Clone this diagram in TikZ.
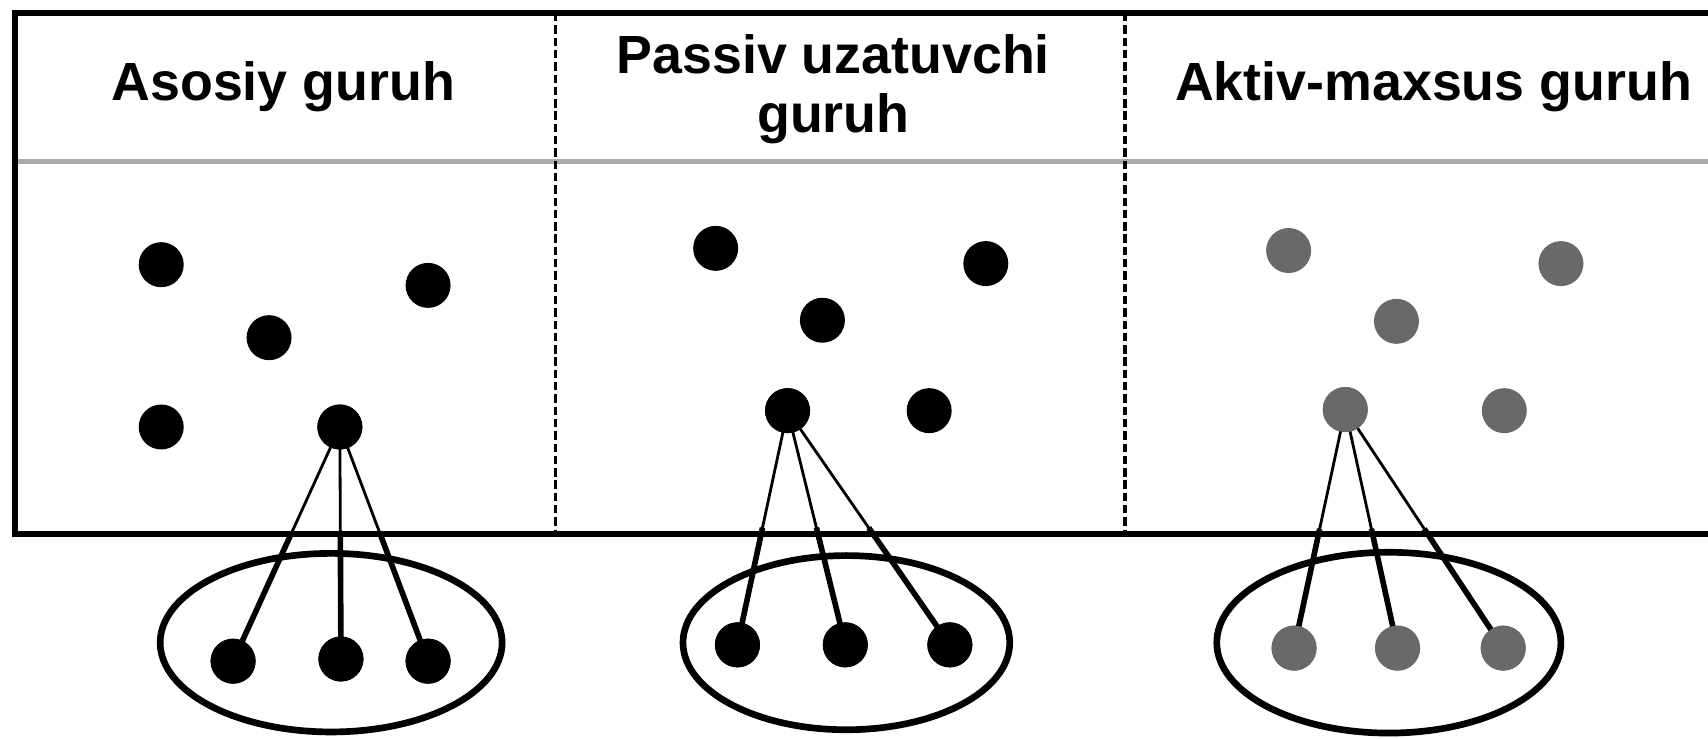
\documentclass[tikz,border=0pt]{standalone}
\usepackage{fontspec}
\setmainfont{Liberation Sans}
\usetikzlibrary{calc}
\definecolor{dotgray}{RGB}{105,105,105}
\definecolor{linegray}{RGB}{170,170,170}
\begin{document}
\begin{tikzpicture}[x=0.010893cm,y=-0.010893cm,
  dot/.style={circle,fill=black,inner sep=0pt,minimum size=0.45cm},
  gdot/.style={dot,fill=dotgray},
  title/.style={font=\bfseries\fontsize{15.3}{17}\selectfont,align=center,inner sep=0pt},
  frame/.style={line width=1.6pt},
  divider/.style={line width=1pt,dash pattern=on 2.4pt off 1.1pt},
  thinlink/.style={line width=0.8pt},
  thicklink/.style={line width=1.6pt},
  group/.style={line width=1.9pt}]
\useasboundingbox (0,0) rectangle (1568,678);

% frame
\draw[linegray,line width=1.4pt] (14,148) -- (1568,148);
\draw[frame] (1568,12) -- (14,12) -- (14,490) -- (1568,490);
\draw[divider] (510,12) -- (510,490);
\draw[divider] (1033,12) -- (1033,490);

% titles
\node[title] (t1) at (260,80) {Asosiy guruh};
\node[title] (t2) at (765,82) {Passiv uzatuvchi\\guruh};
\node[title] (t3) at (1316,80) {Aktiv-maxsus guruh};

% panel 1
\node[dot] (a1) at (148,243) {};
\node[dot] (a2) at (393,262) {};
\node[dot] (a3) at (247,310) {};
\node[dot] (a4) at (148,392) {};
\node[dot] (a5) at (312,392) {};
\node[dot] (a6) at (214,607) {};
\node[dot] (a7) at (313,605) {};
\node[dot] (a8) at (393,607) {};
\draw[group] (304,590) ellipse [x radius=1.71cm, y radius=0.893cm];
\foreach \b in {a6,a7,a8}{
  \draw[thinlink] (a5.center) -- (\b.center);
  \draw[thicklink] ($(a5.center)!0.45!(\b.center)$) -- (\b.center);
}
\node[dot] at (a5) {};
\foreach \b in {a6,a7,a8}{\node[dot] at (\b) {};}

% panel 2
\node[dot] (b1) at (657,228) {};
\node[dot] (b2) at (905,242) {};
\node[dot] (b3) at (755,294) {};
\node[dot] (b4) at (723,377) {};
\node[dot] (b5) at (853,377) {};
\node[dot] (b6) at (677,592) {};
\node[dot] (b7) at (776,592) {};
\node[dot] (b8) at (872,592) {};
\draw[group] (777,590) ellipse [x radius=1.634cm, y radius=0.871cm];
\foreach \b in {b6,b7,b8}{
  \draw[thinlink] (b4.center) -- (\b.center);
  \draw[thicklink] ($(b4.center)!0.5!(\b.center)$) -- (\b.center);
}
\node[dot] at (b4) {};
\foreach \b in {b6,b7,b8}{\node[dot] at (\b) {};}

% panel 3
\node[gdot] (c1) at (1183,230) {};
\node[gdot] (c2) at (1433,242) {};
\node[gdot] (c3) at (1282,295) {};
\node[gdot] (c4) at (1235,376) {};
\node[gdot] (c5) at (1381,377) {};
\node[gdot] (c6) at (1188,595) {};
\node[gdot] (c7) at (1283,595) {};
\node[gdot] (c8) at (1380,595) {};
\draw[group] (1275,590) ellipse [x radius=1.721cm, y radius=0.904cm];
\foreach \b in {c6,c7,c8}{
  \draw[thinlink] (c4.center) -- (\b.center);
  \draw[thicklink] ($(c4.center)!0.5!(\b.center)$) -- (\b.center);
}
\node[gdot] at (c4) {};
\foreach \b in {c6,c7,c8}{\node[gdot] at (\b) {};}
\end{tikzpicture}
\end{document}
